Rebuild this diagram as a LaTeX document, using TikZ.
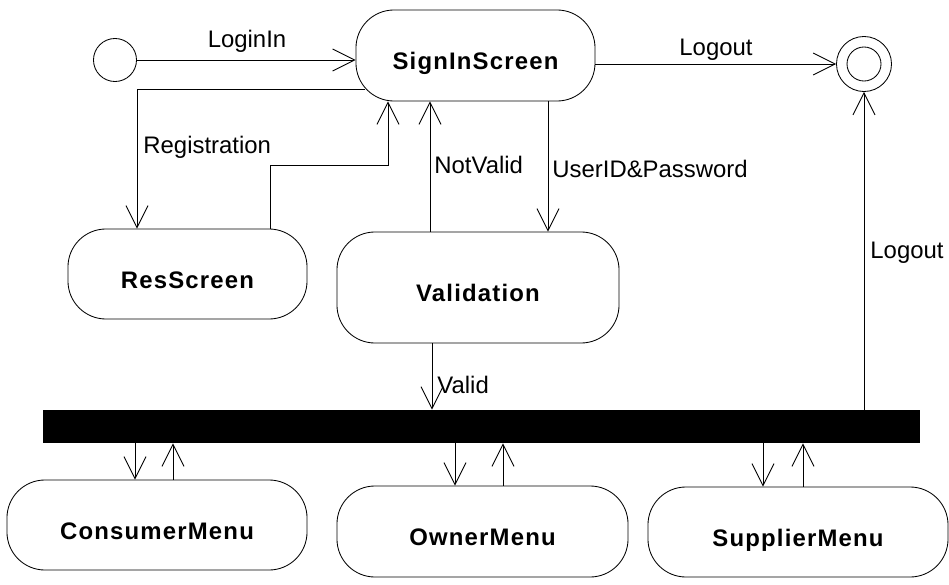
\documentclass[tikz,border=0pt]{standalone}
\usepackage{fontspec}
\setmainfont{Liberation Sans}
\newfontfamily\statefont[LetterSpace=5]{Liberation Sans}
\usetikzlibrary{arrows.meta,calc}

\tikzset{
  state/.style={draw, rounded corners=0.95cm, inner sep=0pt, text height=20pt, text depth=0pt,
    font=\statefont\fontsize{17}{20}\selectfont\bfseries},
  lbl/.style={anchor=base west, inner sep=0pt, font=\fontsize{17}{20}\selectfont},
  arr/.style={-{Straight Barb[length=0.55cm,width=0.55cm]}, line width=0.6pt}
}

\begin{document}
\begin{tikzpicture}[x=0.025cm, y=-0.025cm, line width=0.6pt]
    \useasboundingbox (0,0) rectangle (949,585);

    \node[draw, circle, minimum size=1.075cm, inner sep=0pt] (init) at (115,60) {};
    \node[draw, circle, minimum size=1.375cm, inner sep=0pt] (final) at (864,64) {};
    \node[draw, circle, minimum size=0.85cm, inner sep=0pt] (finalin) at (final) {};

    \node[state, minimum width=5.975cm, minimum height=2.275cm] (signin) at (475.5,55.5) {SignInScreen};
    \node[state, minimum width=5.975cm, minimum height=2.25cm] (res) at (187.5,274) {ResScreen};
    \node[state, minimum width=7.05cm, minimum height=2.775cm] (valid) at (478,287.5) {Validation};
    \node[fill=black, minimum width=21.925cm, minimum height=0.825cm, inner sep=0pt] (bar) at (481.5,426.5) {};
    \node[state, minimum width=7.5cm, minimum height=2.25cm] (cons) at (157,525) {ConsumerMenu};
    \node[state, minimum width=7.275cm, minimum height=2.275cm] (owner) at (482.5,531.5) {OwnerMenu};
    \node[state, minimum width=7.5cm, minimum height=2.25cm] (supp) at (798,532) {SupplierMenu};

    \draw[arr] (init.east) -- (init.east -| signin.west);
    \draw[arr] (signin.east |- final.west) -- (final.west);
    \draw[arr] ($(signin.south west)+(9,-12)$) -| (137,0 |- res.north);
    \draw[arr] (270,0 |- res.north) |- (388,165) -- (388,0 |- signin.south);
    \draw[arr] (430,0 |- valid.north) -- (430,0 |- signin.south);
    \draw[arr] (548,0 |- signin.south) -- (548,0 |- valid.north);
    \draw[arr] (432,0 |- valid.south) -- (432,0 |- bar.north);
    \draw[arr] (final.south |- bar.north) -- (final.south);

    \draw[arr] (135,0 |- bar.south) -- (135,0 |- cons.north);
    \draw[arr] (173,0 |- cons.north) -- (173,0 |- bar.south);
    \draw[arr] (455,0 |- bar.south) -- (455,0 |- owner.north);
    \draw[arr] (503,0 |- owner.north) -- (503,0 |- bar.south);
    \draw[arr] (763,0 |- bar.south) -- (763,0 |- supp.north);
    \draw[arr] (803,0 |- supp.north) -- (803,0 |- bar.south);

    \node[lbl, anchor=base] (lblogin) at (247,48) {LoginIn};
    \node[lbl, anchor=base] (lblogout) at (716,55) {Logout};
    \node[lbl] (lbreg) at (143,153) {Registration};
    \node[lbl] (lbnot) at (434,173) {NotValid};
    \node[lbl] (lbuser) at (552,177) {UserID\&Password};
    \node[lbl] (lbvalid) at (437,393) {Valid};
    \node[lbl] (lbout) at (870,258) {Logout};
\end{tikzpicture}
\end{document}
